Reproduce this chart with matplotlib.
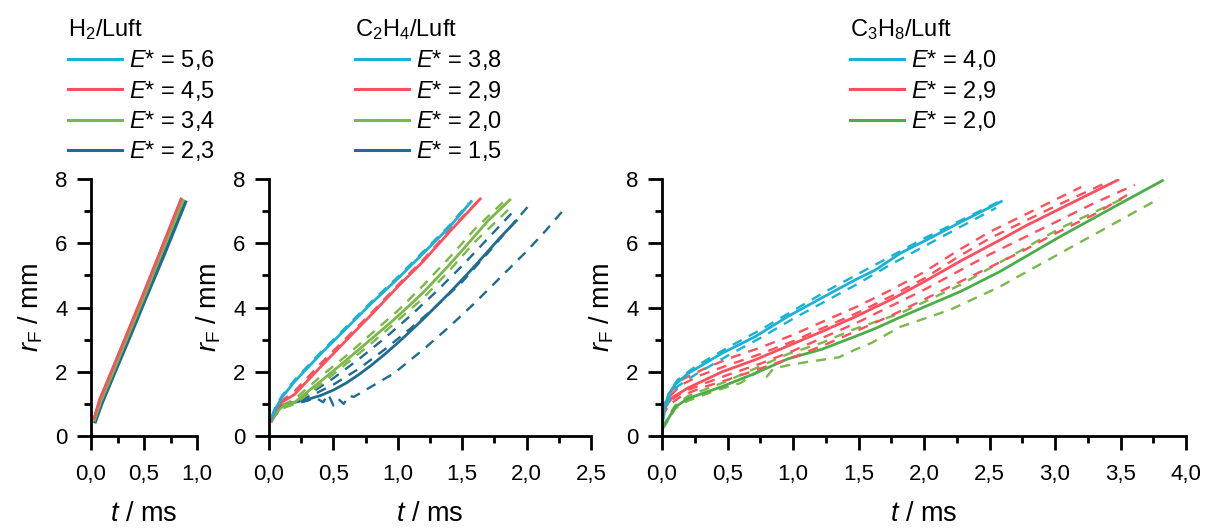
import numpy as np
import matplotlib
matplotlib.use("Agg")
import matplotlib.pyplot as plt
from matplotlib.lines import Line2D
from matplotlib.ticker import MultipleLocator, FuncFormatter

plt.rcParams['font.family'] = ['Liberation Sans', 'DejaVu Sans']
plt.rcParams['mathtext.fontset'] = 'custom'
plt.rcParams['mathtext.rm'] = 'Liberation Sans'
plt.rcParams['mathtext.it'] = 'Liberation Sans:italic'

# colours
c_cyan = '#1ab2d2'
c_red = '#fe4f5c'
c_lgreen = '#7ab84a'
c_blue = '#1f6b91'
c_green = '#4aae48'

# ---- H2/Luft ----
h2_t_56 = [0.03, 0.08, 0.2, 0.35, 0.5, 0.65, 0.85]
h2_r_56 = [0.55, 1.1, 2.05, 3.25, 4.45, 5.7, 7.35]
h2_t_45 = [0.03, 0.08, 0.2, 0.35, 0.5, 0.65, 0.85]
h2_r_45 = [0.55, 1.12, 2.07, 3.27, 4.48, 5.72, 7.38]
h2_t_34 = [0.035, 0.09, 0.21, 0.36, 0.51, 0.66, 0.87]
h2_r_34 = [0.5, 1.05, 2.0, 3.2, 4.4, 5.65, 7.33]
h2_t_23 = [0.04, 0.1, 0.22, 0.38, 0.53, 0.69, 0.89]
h2_r_23 = [0.45, 1.0, 1.95, 3.2, 4.4, 5.65, 7.28]

# ---- C2H4/Luft ----
c2_t_38 = [0.02, 0.05, 0.1, 0.2, 0.4, 0.6, 0.8, 1.0, 1.2, 1.4, 1.57]
c2_r_38 = [0.55, 0.85, 1.2, 1.7, 2.55, 3.35, 4.15, 4.9, 5.7, 6.5, 7.3]
c2_td_38 = [0.02, 0.05, 0.1, 0.2, 0.4, 0.6, 0.8, 1.0, 1.2, 1.4, 1.55]
c2_rd_38 = [0.6, 0.9, 1.25, 1.75, 2.6, 3.4, 4.2, 4.95, 5.75, 6.55, 7.25]
c2_t_29 = [0.02, 0.05, 0.1, 0.2, 0.4, 0.6, 0.8, 1.0, 1.2, 1.4, 1.64]
c2_r_29 = [0.5, 0.8, 1.05, 1.3, 2.15, 2.98, 3.8, 4.65, 5.45, 6.35, 7.38]
c2_td_29 = [0.02, 0.05, 0.1, 0.2, 0.4, 0.6, 0.8, 1.0, 1.2, 1.4, 1.62]
c2_rd_29 = [0.55, 0.85, 1.1, 1.4, 2.25, 3.05, 3.85, 4.7, 5.5, 6.4, 7.3]
c2_t_20 = [0.02, 0.05, 0.1, 0.2, 0.3, 0.4, 0.5, 0.6, 0.7, 0.8, 0.9, 1.0, 1.1, 1.2,
           1.3, 1.4, 1.5, 1.6, 1.7, 1.87]
c2_r_20 = [0.45, 0.7, 0.9, 1.05, 1.38, 1.7, 2.03, 2.36, 2.7, 3.04, 3.38, 3.73, 4.1, 4.48,
           4.9, 5.33, 5.78, 6.24, 6.7, 7.35]
c2_td1_20 = [0.02, 0.05, 0.1, 0.2, 0.4, 0.6, 0.8, 1.0, 1.2, 1.4, 1.6, 1.85]
c2_rd1_20 = [0.5, 0.75, 0.95, 1.15, 1.85, 2.5, 3.2, 3.9, 4.7, 5.55, 6.45, 7.4]
c2_td2_20 = [0.02, 0.05, 0.1, 0.2, 0.4, 0.6, 0.8, 1.0, 1.2, 1.4, 1.6, 1.86]
c2_rd2_20 = [0.45, 0.65, 0.85, 1.0, 1.6, 2.25, 2.9, 3.6, 4.3, 5.15, 6.05, 7.05]
c2_t_15 = [0.02, 0.05, 0.1, 0.2, 0.3, 0.4, 0.5, 0.6, 0.7, 0.8, 0.9, 1.0, 1.1, 1.2,
           1.3, 1.4, 1.5, 1.6, 1.7, 1.8, 1.92]
c2_r_15 = [0.5, 0.8, 0.95, 1.05, 1.14, 1.26, 1.43, 1.65, 1.92, 2.22, 2.55, 2.9, 3.27, 3.65,
           4.05, 4.45, 4.87, 5.3, 5.75, 6.2, 6.7]
c2_td1_15 = [0.02, 0.1, 0.2, 0.35, 0.5, 0.7, 0.9, 1.1, 1.3, 1.5, 1.7, 1.92]
c2_rd1_15 = [0.5, 0.95, 1.1, 1.4, 1.8, 2.4, 3.05, 3.75, 4.5, 5.3, 6.15, 7.09]
c2_td2_15 = [0.02, 0.1, 0.2, 0.35, 0.5, 0.7, 0.9, 1.1, 1.3, 1.5, 1.7, 1.85, 2.01]
c2_rd2_15 = [0.5, 0.92, 1.05, 1.3, 1.6, 2.1, 2.7, 3.35, 4.05, 4.8, 5.7, 6.4, 7.14]
c2_td3_15 = [0.02, 0.1, 0.2, 0.3, 0.36, 0.42, 0.46, 0.5, 0.54, 0.58, 0.62, 0.66, 0.8,
             0.97, 1.2, 1.4, 1.6, 1.8, 2.0, 2.15, 2.3]
c2_rd3_15 = [0.5, 0.9, 1.0, 1.1, 1.2, 1.05, 1.3, 0.95, 1.15, 1.0, 1.25, 1.22, 1.55,
             1.95, 2.7, 3.4, 4.15, 4.95, 5.75, 6.4, 7.1]

# ---- C3H8/Luft ----
c3_t_40 = [0.0, 0.02, 0.05, 0.1, 0.2, 0.46, 0.71, 0.96, 1.22, 1.47, 1.63, 1.82, 2.05, 2.3, 2.59]
c3_r_40 = [0.3, 0.9, 1.3, 1.6, 1.95, 2.58, 3.09, 3.72, 4.3, 4.85, 5.17, 5.69, 6.17, 6.7, 7.3]
c3_td1_40 = [0.0, 0.03, 0.06, 0.12, 0.25, 0.5, 0.75, 1.0, 1.25, 1.5, 1.75, 2.0, 2.25, 2.6]
c3_rd1_40 = [0.5, 1.0, 1.4, 1.75, 2.15, 2.75, 3.3, 3.9, 4.5, 5.05, 5.6, 6.15, 6.65, 7.35]
c3_td2_40 = [0.0, 0.03, 0.06, 0.12, 0.25, 0.5, 0.75, 1.0, 1.25, 1.5, 1.75, 2.0, 2.25, 2.55]
c3_rd2_40 = [0.4, 0.85, 1.2, 1.55, 1.9, 2.5, 3.05, 3.65, 4.2, 4.75, 5.35, 5.9, 6.45, 7.1]
c3_t_29 = [0.0, 0.02, 0.08, 0.2, 0.46, 0.71, 0.96, 1.22, 1.47, 1.75, 2.0, 2.28, 2.58, 2.78, 3.1, 3.48]
c3_r_29 = [0.6, 0.9, 1.2, 1.5, 2.0, 2.37, 2.8, 3.25, 3.7, 4.25, 4.8, 5.45, 6.1, 6.55, 7.2, 7.97]
c3_td1_29 = [0.0, 0.05, 0.15, 0.3, 0.5, 0.75, 1.0, 1.25, 1.5, 1.75, 2.0, 2.25, 2.5, 2.75, 3.0, 3.2]
c3_rd1_29 = [0.8, 1.3, 1.75, 2.05, 2.4, 2.75, 3.15, 3.6, 4.05, 4.55, 5.1, 5.75, 6.35, 6.85, 7.35, 7.75]
c3_td2_29 = [0.0, 0.05, 0.15, 0.3, 0.5, 0.75, 1.0, 1.25, 1.5, 1.75, 2.0, 2.25, 2.5, 2.75, 3.0, 3.3, 3.61]
c3_rd2_29 = [0.7, 1.05, 1.35, 1.6, 1.9, 2.25, 2.65, 3.1, 3.55, 4.05, 4.55, 5.1, 5.65, 6.15, 6.65, 7.25, 7.82]
c3_td3_29 = [0.0, 0.05, 0.15, 0.3, 0.5, 0.75, 1.0, 1.25, 1.5, 1.75, 2.0, 2.25, 2.5, 2.75, 3.0, 3.3, 3.55]
c3_rd3_29 = [0.6, 0.95, 1.25, 1.5, 1.75, 2.1, 2.45, 2.85, 3.3, 3.75, 4.25, 4.75, 5.25, 5.75, 6.3, 6.9, 7.5]
c3_td4_29 = [0.0, 0.05, 0.15, 0.3, 0.5, 0.75, 1.0, 1.25, 1.5, 1.75, 2.0, 2.25, 2.5, 2.75, 3.0, 3.4]
c3_rd4_29 = [0.75, 1.2, 1.6, 1.9, 2.2, 2.55, 2.95, 3.4, 3.85, 4.35, 4.9, 5.55, 6.15, 6.65, 7.15, 7.9]
c3_t_20 = [0.0, 0.02, 0.05, 0.1, 0.2, 0.46, 0.71, 0.96, 1.22, 1.47, 1.63, 1.82, 2.28, 2.58, 3.04, 3.45, 3.82]
c3_r_20 = [0.2, 0.35, 0.55, 0.9, 1.17, 1.54, 1.95, 2.4, 2.7, 3.09, 3.35, 3.7, 4.5, 5.12, 6.21, 7.13, 7.95]
c3_td1_20 = [0.0, 0.05, 0.1, 0.2, 0.46, 0.71, 0.96, 1.22, 1.47, 1.82, 2.28, 2.5, 3.04, 3.55]
c3_rd1_20 = [0.25, 0.6, 0.95, 1.25, 1.65, 2.1, 2.55, 2.9, 3.33, 3.82, 4.71, 5.22, 6.47, 7.45]
c3_td2_20 = [0.0, 0.05, 0.1, 0.2, 0.4, 0.6, 0.75, 0.8, 0.85, 0.96, 1.1, 1.22, 1.35, 1.47,
             1.6, 1.82, 2.2, 2.58, 3.04, 3.4, 3.8]
c3_rd2_20 = [0.2, 0.5, 0.85, 1.1, 1.4, 1.65, 2.05, 1.85, 2.1, 2.2, 2.3, 2.37, 2.45, 2.68,
             2.9, 3.4, 3.93, 4.65, 5.69, 6.5, 7.4]

lw = 2.0
dash = (0, (4.3, 3.4))

fig = plt.figure(figsize=(12.07, 5.31), dpi=100)
W, H = 1207, 531
y0, y1 = 436, 179
ax1 = fig.add_axes([91 / W, (H - y0) / H, 106 / W, (y0 - y1) / H])
ax2 = fig.add_axes([269 / W, (H - y0) / H, 322 / W, (y0 - y1) / H])
ax3 = fig.add_axes([662 / W, (H - y0) / H, 524 / W, (y0 - y1) / H])

# H2
ax1.plot(h2_t_56, h2_r_56, color=c_cyan, lw=lw)
ax1.plot(h2_t_23, h2_r_23, color=c_blue, lw=lw + 0.6)
ax1.plot(h2_t_34, h2_r_34, color=c_lgreen, lw=lw)
ax1.plot(h2_t_45, h2_r_45, color=c_red, lw=lw)

# C2H4
ax2.plot(c2_td3_15, c2_rd3_15, color=c_blue, lw=lw * 0.85, ls=dash)
ax2.plot(c2_td2_15, c2_rd2_15, color=c_blue, lw=lw * 0.85, ls=dash)
ax2.plot(c2_td1_15, c2_rd1_15, color=c_blue, lw=lw * 0.85, ls=dash)
ax2.plot(c2_t_15, c2_r_15, color=c_blue, lw=lw)
ax2.plot(c2_td1_20, c2_rd1_20, color=c_lgreen, lw=lw * 0.85, ls=dash)
ax2.plot(c2_td2_20, c2_rd2_20, color=c_lgreen, lw=lw * 0.85, ls=dash)
ax2.plot(c2_t_20, c2_r_20, color=c_lgreen, lw=lw)
ax2.plot(c2_td_29, c2_rd_29, color=c_red, lw=lw * 0.85, ls=dash)
ax2.plot(c2_t_29, c2_r_29, color=c_red, lw=lw)
ax2.plot(c2_td_38, c2_rd_38, color=c_cyan, lw=lw * 0.85, ls=dash)
ax2.plot(c2_t_38, c2_r_38, color=c_cyan, lw=lw)

# C3H8
ax3.plot(c3_td1_20, c3_rd1_20, color=c_lgreen, lw=lw * 0.85, ls=dash)
ax3.plot(c3_td2_20, c3_rd2_20, color=c_lgreen, lw=lw * 0.85, ls=dash)
ax3.plot(c3_t_20, c3_r_20, color=c_green, lw=lw)
for tt, rr in [(c3_td1_29, c3_rd1_29), (c3_td2_29, c3_rd2_29),
               (c3_td3_29, c3_rd3_29), (c3_td4_29, c3_rd4_29)]:
    ax3.plot(tt, rr, color=c_red, lw=lw * 0.85, ls=dash)
ax3.plot(c3_t_29, c3_r_29, color=c_red, lw=lw)
ax3.plot(c3_td1_40, c3_rd1_40, color=c_cyan, lw=lw * 0.85, ls=dash)
ax3.plot(c3_td2_40, c3_rd2_40, color=c_cyan, lw=lw * 0.85, ls=dash)
ax3.plot(c3_t_40, c3_r_40, color=c_cyan, lw=lw)

comma = FuncFormatter(lambda v, p: f"{v:.1f}".replace('.', ','))
for ax, xmax in [(ax1, 1.0), (ax2, 2.5), (ax3, 4.0)]:
    ax.set_xlim(0, xmax)
    ax.set_ylim(0, 8)
    ax.xaxis.set_major_locator(MultipleLocator(0.5))
    ax.xaxis.set_minor_locator(MultipleLocator(0.25))
    ax.yaxis.set_major_locator(MultipleLocator(2))
    ax.yaxis.set_minor_locator(MultipleLocator(1))
    ax.xaxis.set_major_formatter(comma)
    for s in ['top', 'right']:
        ax.spines[s].set_visible(False)
    for s in ['left', 'bottom']:
        ax.spines[s].set_linewidth(2.0)
    ax.tick_params(which='major', direction='out', length=10, width=2.0, labelsize=16)
    ax.tick_params(which='minor', direction='out', length=5, width=2.0)
    ax.tick_params(axis='x', which='major', pad=10)
    ax.tick_params(axis='y', which='major', pad=7)
    ax.set_xlabel('$t$ / ms', fontsize=19.5, labelpad=12)
    ax.set_ylabel(r'$r_\mathrm{F}$ / mm', fontsize=19.5, labelpad=7)

legends = [
    ('H$_2$/Luft', ['5,6', '4,5', '3,4', '2,3'], [c_cyan, c_red, c_lgreen, c_blue], 68),
    ('C$_2$H$_4$/Luft', ['3,8', '2,9', '2,0', '1,5'], [c_cyan, c_red, c_lgreen, c_blue], 355),
    ('C$_3$H$_8$/Luft', ['4,0', '2,9', '2,0'], [c_cyan, c_red, c_green], 850),
]
for title, vals, cols, xpos in legends:
    handles = [Line2D([], [], color=c, lw=2.2) for c in cols]
    labels = ['$E$* = ' + v for v in vals]
    fig.legend(handles, labels, title=title, loc='upper left',
               bbox_to_anchor=(xpos / W, 1 - 17 / H), frameon=False,
               fontsize=17, title_fontsize=17, handlelength=2.3,
               handletextpad=0.3, labelspacing=0.27, borderpad=0,
               borderaxespad=0, alignment='left')

fig.savefig('out.png', dpi=100)
